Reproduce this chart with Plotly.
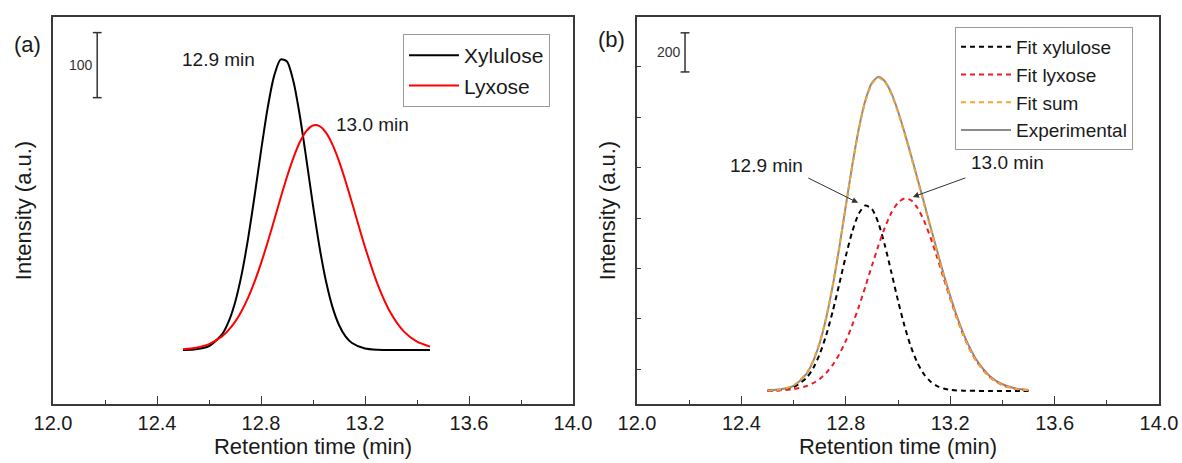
import plotly.graph_objects as go

# ---------------- data ----------------
# panel (a): retention time (min) and intensity (baseline = 0)
t_a = [12.50, 12.55, 12.60, 12.65, 12.675, 12.70, 12.725, 12.75, 12.775, 12.80,
       12.825, 12.85, 12.875, 12.90, 12.925, 12.95, 12.975, 13.00, 13.025, 13.05,
       13.075, 13.10, 13.125, 13.15, 13.20, 13.25, 13.30, 13.35, 13.40, 13.45]
xylulose = [0.2, 1.2, 6.0, 23.9, 43.1, 72.8, 115.2, 170.5, 236.0, 305.9,
            370.8, 420.7, 446.6, 443.7, 412.4, 358.7, 292.0, 222.3, 158.4, 105.6,
            65.9, 38.5, 21.0, 10.8, 2.3, 0.4, 0.0, 0.0, 0.0, 0.0]
lyxose = [1.2, 3.6, 9.1, 20.9, 30.5, 43.2, 59.7, 80.1, 104.7, 133.2,
          165.0, 198.8, 233.2, 266.3, 295.9, 320.1, 336.9, 345.2, 344.3, 334.2,
          315.8, 290.4, 259.9, 226.4, 158.4, 99.5, 56.1, 28.3, 12.9, 5.2]

# panel (b)
t_b = [12.50, 12.55, 12.60, 12.65, 12.675, 12.70, 12.725, 12.75, 12.775, 12.80,
       12.825, 12.85, 12.875, 12.90, 12.925, 12.95, 12.975, 13.00, 13.025, 13.05,
       13.075, 13.10, 13.125, 13.15, 13.175, 13.20, 13.225, 13.25, 13.275, 13.30,
       13.35, 13.40, 13.45, 13.50]
fit_xylulose = [0.7, 4.1, 18.8, 67.4, 116.0, 187.8, 285.5, 407.7, 546.8, 689.1,
                815.8, 907.2, 947.8, 930.2, 857.6, 742.8, 604.3, 462.0, 331.7, 223.7,
                141.8, 84.4, 47.2, 24.8, 12.2, 5.7, 2.5, 1.0, 0.4, 0.1,
                0.0, 0.0, 0.0, 0.0]
fit_lyxose = [0.8, 2.8, 8.8, 24.7, 39.5, 61.3, 91.8, 133.3, 187.5, 255.5,
              337.2, 431.0, 533.7, 640.1, 743.5, 836.6, 911.8, 962.6, 984.4, 975.0,
              935.4, 869.3, 782.5, 682.2, 576.0, 471.3, 373.4, 286.5, 213.1, 153.4,
              72.3, 30.0, 10.9, 3.5]
fit_sum = [1.5, 6.9, 27.6, 92.1, 155.5, 249.1, 377.3, 541.0, 734.3, 944.6,
           1153.0, 1338.2, 1481.5, 1570.3, 1601.1, 1579.4, 1516.1, 1424.6, 1316.1, 1198.7,
           1077.2, 953.7, 829.7, 707.0, 588.2, 477.0, 375.9, 287.5, 213.5, 153.5,
           72.3, 30.0, 10.9, 3.5]
experimental = [2, 8, 26, 88, 152, 245, 374, 538, 733, 946,
                 1155, 1342, 1486, 1575, 1606, 1582, 1521, 1430, 1322, 1205,
                 1084, 962, 837, 716, 596, 486, 384, 296, 221, 160,
                 78, 34, 13, 5]

x_ticks = [12.0, 12.4, 12.8, 13.2, 13.6, 14.0]
x_tick_labels = ["12.0", "12.4", "12.8", "13.2", "13.6", "14.0"]

# scale bars: [x, y_bottom, y_top, label]
scalebar_a = [12.17, 388, 488, "100"]
scalebar_b = [12.184, 1631, 1831, "200"]

# peak labels
peak_a = [("12.9 min", 12.635, 446), ("13.0 min", 13.23, 346)]
peak_b = [("12.9 min", 12.498, 1154), ("13.0 min", 13.421, 1169)]
# arrows in (b): (tail_x, tail_y, head_x, head_y)
arrows_b = [(12.651, 1092, 12.847, 962), (13.264, 1092, 13.057, 992)]

FONT = "Liberation Sans, Arial, sans-serif"
FRAME = "#3a3a3a"
SM = 0.7

fig = go.Figure()

# ---- panel (a)
fig.add_trace(go.Scatter(x=t_a, y=xylulose, mode="lines", name="Xylulose",
                         line=dict(color="black", width=2, shape="spline", smoothing=SM),
                         xaxis="x", yaxis="y", legend="legend"))
fig.add_trace(go.Scatter(x=t_a, y=lyxose, mode="lines", name="Lyxose",
                         line=dict(color="#ff0000", width=2, shape="spline", smoothing=SM),
                         xaxis="x", yaxis="y", legend="legend"))

# ---- panel (b)
fig.add_trace(go.Scatter(x=t_b, y=experimental, mode="lines", name="Experimental",
                         line=dict(color="#8c8c8c", width=2, shape="spline", smoothing=SM),
                         xaxis="x2", yaxis="y2", legend="legend2", legendrank=4))
fig.add_trace(go.Scatter(x=t_b, y=fit_xylulose, mode="lines", name="Fit xylulose",
                         line=dict(color="black", width=2, dash="5px,4px", shape="spline", smoothing=SM),
                         xaxis="x2", yaxis="y2", legend="legend2", legendrank=1))
fig.add_trace(go.Scatter(x=t_b, y=fit_lyxose, mode="lines", name="Fit lyxose",
                         line=dict(color="#ee1c25", width=2, dash="5px,4px", shape="spline", smoothing=SM),
                         xaxis="x2", yaxis="y2", legend="legend2", legendrank=2))
fig.add_trace(go.Scatter(x=t_b, y=fit_sum, mode="lines", name="Fit sum",
                         line=dict(color="#f5a331", width=2, dash="5px,4px", shape="spline", smoothing=SM),
                         xaxis="x2", yaxis="y2", legend="legend2", legendrank=3))

xcommon = dict(range=[12.0, 14.0], tickvals=x_ticks, ticktext=x_tick_labels,
               ticks="inside", ticklen=8, tickwidth=1.3, tickcolor=FRAME,
               minor=dict(ticks="inside", ticklen=4, tickwidth=1.3, tickcolor=FRAME, dtick=0.2, tick0=12.0),
               showline=True, linecolor=FRAME, linewidth=1.5, mirror=True,
               showgrid=False, zeroline=False, automargin=False,
               tickfont=dict(family=FONT, size=20, color="#1a1a1a"),
               title=dict(text="Retention time (min)", font=dict(family=FONT, size=22, color="#1a1a1a"),
                          standoff=4))
ycommon = dict(showline=True, linecolor=FRAME, linewidth=1.5, mirror=True,
               showgrid=False, zeroline=False, showticklabels=False, automargin=False,
               title=dict(text="Intensity (a.u.)", font=dict(family=FONT, size=22, color="#1a1a1a"),
                          standoff=14))

fig.update_layout(
    width=1182, height=463,
    margin=dict(l=0, r=0, t=0, b=0, autoexpand=False),
    paper_bgcolor="white", plot_bgcolor="white",
    font=dict(family=FONT, color="#1a1a1a"),
    xaxis=dict(domain=[53 / 1182, 573 / 1182], anchor="y", **xcommon),
    yaxis=dict(domain=[1 - 404 / 463, 1 - 17 / 463], anchor="x", range=[-83, 512],
               ticks="", **ycommon),
    xaxis2=dict(domain=[637 / 1182, 1159 / 1182], anchor="y2", **xcommon),
    yaxis2=dict(domain=[1 - 404 / 463, 1 - 17 / 463], anchor="x2", range=[-67, 1912],
                ticks="inside", ticklen=4, tickwidth=1, tickcolor=FRAME, tick0=110, dtick=258,
                **ycommon),
    legend=dict(x=403 / 1182, y=1 - 34 / 463, xanchor="left", yanchor="top",
                bordercolor="#9a9a9a", borderwidth=1, bgcolor="white", itemwidth=50,
                font=dict(family=FONT, size=21, color="#1a1a1a"), tracegroupgap=0),
    legend2=dict(x=955 / 1182, y=1 - 27 / 463, xanchor="left", yanchor="top",
                 bordercolor="#9a9a9a", borderwidth=1, bgcolor="white", itemwidth=50,
                 font=dict(family=FONT, size=19, color="#1a1a1a"), tracegroupgap=0),
    showlegend=True,
)

# scale bars
for (sx, yb, yt, lab), xr, yr in [(scalebar_a, "x", "y"), (scalebar_b, "x2", "y2")]:
    fig.add_shape(type="line", xref=xr, yref=yr, x0=sx, x1=sx, y0=yb, y1=yt,
                  line=dict(color="#333", width=1.5))
    fig.add_annotation(xref=xr, yref=yr, x=sx, y=(yb + yt) / 2, text=lab, showarrow=False,
                       xanchor="right", yanchor="middle", xshift=-2,
                       font=dict(family=FONT, size=14, color="#333"))
    for yy in (yb, yt):
        fig.add_shape(type="line", xref=xr, yref=yr, x0=sx - 0.017, x1=sx + 0.017, y0=yy, y1=yy,
                      line=dict(color="#333", width=1.5))

for txt, xx, yy in peak_a:
    fig.add_annotation(xref="x", yref="y", x=xx, y=yy, text=txt, showarrow=False,
                       xanchor="center", yanchor="middle",
                       font=dict(family=FONT, size=19, color="#1a1a1a"))
for txt, xx, yy in peak_b:
    fig.add_annotation(xref="x2", yref="y2", x=xx, y=yy, text=txt, showarrow=False,
                       xanchor="center", yanchor="middle",
                       font=dict(family=FONT, size=19, color="#1a1a1a"))
for tx, ty, hx, hy in arrows_b:
    fig.add_annotation(xref="x2", yref="y2", axref="x2", ayref="y2", x=hx, y=hy, ax=tx, ay=ty,
                       text="", showarrow=True, arrowhead=2, arrowsize=1.2, arrowwidth=1,
                       arrowcolor="#333")

# panel letters
fig.add_annotation(xref="paper", yref="paper", x=27 / 1182, y=1 - 44 / 463, text="(a)",
                   xanchor="center", yanchor="middle",
                   showarrow=False, font=dict(family=FONT, size=22, color="#1a1a1a"))
fig.add_annotation(xref="paper", yref="paper", x=611 / 1182, y=1 - 40 / 463, text="(b)",
                   xanchor="center", yanchor="middle",
                   showarrow=False, font=dict(family=FONT, size=22, color="#1a1a1a"))

fig.write_html("out.html")
